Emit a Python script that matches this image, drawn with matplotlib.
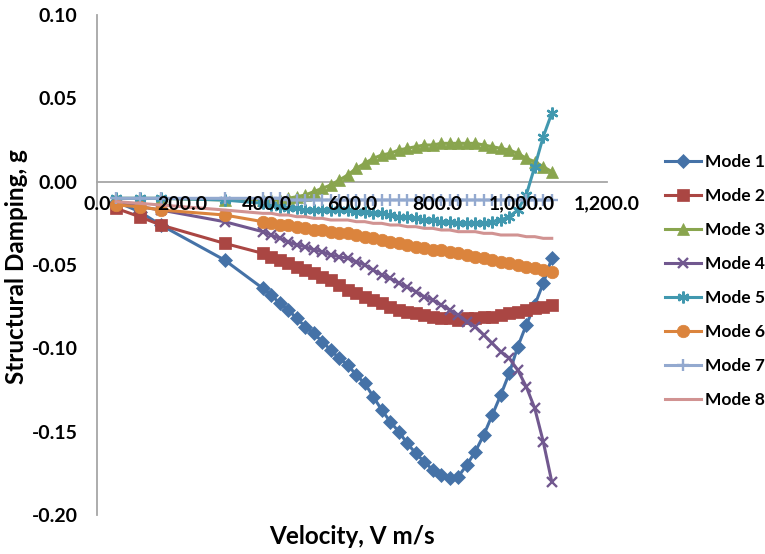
import matplotlib
matplotlib.use("Agg")
import matplotlib.pyplot as plt
from matplotlib.ticker import FuncFormatter

# === DATA ===
velocity = [45, 100, 150, 300, 390, 410, 430, 450, 470, 490, 510, 530, 550, 570,
            590, 610, 630, 650, 670, 690, 710, 730, 750, 770, 790, 810, 830, 850,
            870, 890, 910, 930, 950, 970, 990, 1010, 1030, 1050, 1070]

mode1 = [-0.012, -0.018, -0.026, -0.047, -0.064, -0.068, -0.073, -0.077, -0.082, -0.087,
         -0.091, -0.096, -0.101, -0.106, -0.110, -0.116, -0.121, -0.129, -0.137, -0.144,
         -0.150, -0.157, -0.163, -0.168, -0.173, -0.176, -0.178, -0.177, -0.170, -0.162,
         -0.152, -0.140, -0.128, -0.115, -0.099, -0.086, -0.074, -0.061, -0.046]
mode2 = [-0.016, -0.021, -0.026, -0.037, -0.043, -0.045, -0.047, -0.049, -0.051, -0.053,
         -0.055, -0.057, -0.059, -0.062, -0.065, -0.067, -0.069, -0.071, -0.073, -0.075,
         -0.077, -0.078, -0.079, -0.080, -0.081, -0.082, -0.082, -0.083, -0.082, -0.082,
         -0.081, -0.081, -0.080, -0.079, -0.078, -0.077, -0.076, -0.075, -0.074]
mode3 = [-0.010, -0.010, -0.010, -0.011, -0.011, -0.011, -0.011, -0.010, -0.009, -0.008,
         -0.006, -0.004, -0.002, 0.001, 0.004, 0.008, 0.011, 0.014, 0.016, 0.017,
         0.019, 0.020, 0.021, 0.022, 0.022, 0.023, 0.023, 0.023, 0.023, 0.023,
         0.022, 0.021, 0.020, 0.019, 0.017, 0.014, 0.012, 0.009, 0.006]
mode4 = [-0.012, -0.015, -0.017, -0.024, -0.030, -0.032, -0.034, -0.036, -0.038, -0.039,
         -0.041, -0.042, -0.044, -0.045, -0.046, -0.048, -0.050, -0.053, -0.056, -0.058,
         -0.061, -0.063, -0.066, -0.069, -0.071, -0.074, -0.077, -0.080, -0.084, -0.087,
         -0.092, -0.097, -0.102, -0.106, -0.113, -0.123, -0.136, -0.156, -0.180]
mode5 = [-0.010, -0.010, -0.010, -0.011, -0.013, -0.014, -0.015, -0.016, -0.016, -0.017,
         -0.017, -0.017, -0.017, -0.017, -0.017, -0.018, -0.018, -0.019, -0.019, -0.020,
         -0.021, -0.021, -0.022, -0.023, -0.023, -0.024, -0.024, -0.025, -0.025, -0.025,
         -0.025, -0.024, -0.023, -0.021, -0.017, -0.008, 0.009, 0.027, 0.041]
mode6 = [-0.014, -0.015, -0.017, -0.020, -0.024, -0.025, -0.026, -0.026, -0.027, -0.028,
         -0.029, -0.029, -0.030, -0.031, -0.031, -0.032, -0.033, -0.034, -0.035, -0.036,
         -0.037, -0.038, -0.039, -0.040, -0.041, -0.041, -0.042, -0.043, -0.044, -0.045,
         -0.046, -0.047, -0.048, -0.049, -0.050, -0.051, -0.052, -0.053, -0.054]
mode7 = [-0.010, -0.010, -0.010, -0.010, -0.010, -0.010, -0.010, -0.011, -0.011, -0.011,
         -0.011, -0.011, -0.011, -0.011, -0.011, -0.011, -0.011, -0.011, -0.011, -0.011,
         -0.011, -0.011, -0.011, -0.011, -0.011, -0.011, -0.011, -0.011, -0.011, -0.011,
         -0.011, -0.011, -0.011, -0.011, -0.011, -0.011, -0.011, -0.011, -0.011]
mode8 = [-0.012, -0.013, -0.014, -0.017, -0.019, -0.019, -0.020, -0.020, -0.021, -0.021,
         -0.022, -0.022, -0.023, -0.023, -0.023, -0.024, -0.024, -0.025, -0.025, -0.026,
         -0.026, -0.027, -0.027, -0.028, -0.028, -0.029, -0.029, -0.030, -0.030, -0.030,
         -0.031, -0.031, -0.032, -0.032, -0.032, -0.033, -0.033, -0.034, -0.034]

labels = ["Mode 1", "Mode 2", "Mode 3", "Mode 4", "Mode 5", "Mode 6", "Mode 7", "Mode 8"]
series = [mode1, mode2, mode3, mode4, mode5, mode6, mode7, mode8]

# === STYLE ===
colors = ["#4572A7", "#AA4643", "#89A54E", "#71588F", "#4198AF", "#DB843D", "#93A9CF", "#D19392"]
markers = ["D", "s", "^", "x", (6, 2, 0), "o", "+", None]
msizes = [7.5, 9, 9, 7.5, 8.5, 9, 9, 0]

plt.rcParams['font.family'] = ['Lato', 'DejaVu Sans']
plt.rcParams['font.weight'] = 'bold'

fig = plt.figure(figsize=(7.65, 5.54), dpi=100)
ax = fig.add_axes([97 / 765, 39 / 554, 510 / 765, 500 / 554])

for lab, ys, col, mk, ms in zip(labels, series, colors, markers, msizes):
    ax.plot(velocity, ys, color=col, lw=2.2, marker=mk, markersize=ms,
            markeredgewidth=1.7 if mk in ("x", "+", (6, 2, 0)) else 0.5,
            markeredgecolor=col, label=lab)

ax.set_xlim(0, 1200)
ax.set_ylim(-0.20, 0.10)
ax.set_xticks([0, 200, 400, 600, 800, 1000, 1200])
ax.set_yticks([-0.20, -0.15, -0.10, -0.05, 0.00, 0.05, 0.10])
ax.xaxis.set_major_formatter(FuncFormatter(lambda v, p: f"{v:,.1f}"))
ax.yaxis.set_major_formatter(FuncFormatter(lambda v, p: f"{v:.2f}"))

ax.spines['right'].set_visible(False)
ax.spines['top'].set_visible(False)
ax.spines['bottom'].set_position(('data', 0))
for s in ('left', 'bottom'):
    ax.spines[s].set_color("#A6A6A6")
    ax.spines[s].set_linewidth(1.3)
ax.spines['bottom'].set_zorder(0)
ax.xaxis.set_zorder(3)  # tick labels sit on top of the curves, like Excel

ax.tick_params(axis='x', length=0, pad=10, labelsize=14)
ax.tick_params(axis='y', length=0, pad=14, labelsize=14)

fig.text(17 / 765, 1 - 267 / 554, "Structural Damping, g", rotation=90, fontsize=17.5,
         fontweight='bold', ha='center', va='center')
fig.text(352 / 765, 1 - 537 / 554, "Velocity, V m/s", fontsize=17.5,
         fontweight='bold', ha='center', va='center')

fig.legend(loc='center left', bbox_to_anchor=(658 / 765, 1 - 281 / 554), frameon=False,
           fontsize=12.5, handlelength=2.1, handletextpad=0.2, labelspacing=1.03,
           borderaxespad=0)

fig.savefig("out.png", dpi=100)
